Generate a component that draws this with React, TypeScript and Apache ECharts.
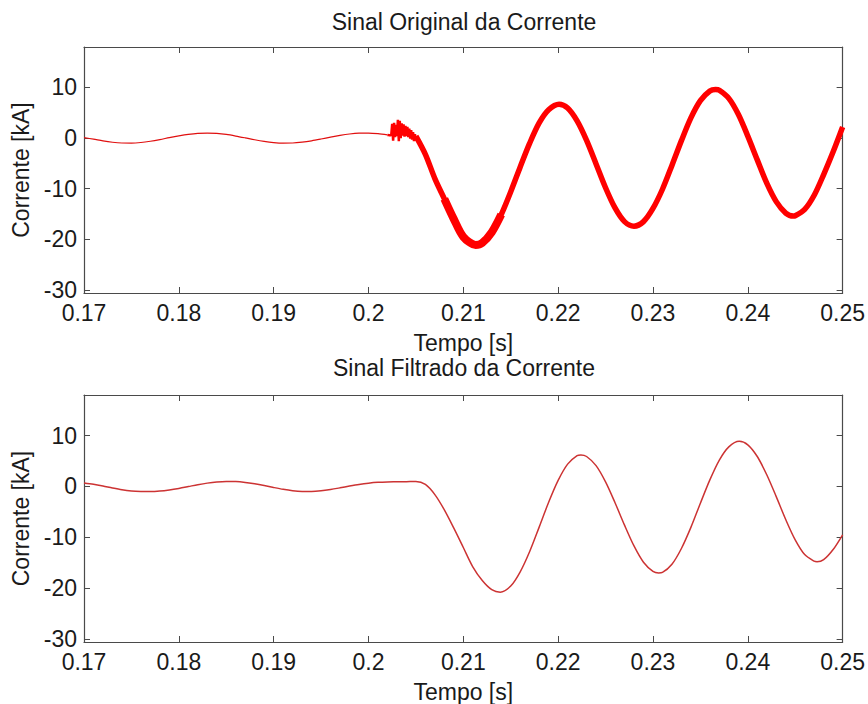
import React, { useEffect, useRef } from 'react';
import * as echarts from 'echarts';

// ---- data ----
const xMin = 0.17;
const xMax = 0.25;
const xInterval = 0.01;
const yMin = -30.6;
const yMax = 18;
const yTickValues = [-30, -20, -10, 0, 10];

const titles = ['Sinal Original da Corrente', 'Sinal Filtrado da Corrente'];
const xName = 'Tempo [s]';
const yName = 'Corrente [kA]';

// Original current, pre-fault, t = 0.170 .. 0.202 step 0.001
const originalPreStart = 0.17;
const originalPre = [
  0.1, -0.21, -0.56, -0.82, -0.97, -0.99, -0.87, -0.62, -0.29, 0.09, 0.44, 0.74, 0.94, 1.0, 0.92, 0.72,
  0.41, 0.05, -0.33, -0.65, -0.88, -0.99, -0.97, -0.8, -0.53, -0.18, 0.2, 0.54, 0.81, 0.97, 0.99, 0.87, 0.63,
];

// Original current, fault inception transient, t = 0.2020 .. 0.2050 step 0.0001
const originalNoiseStart = 0.202;
const originalNoise = [
  0.63, 0.6, 0.58, 0.56, 0.6, 2.8, -0.5, 3.0, 0.2, 2.6, 0.4, 3.6, -0.6, 3.4, 0.0, 2.9, 0.5, 2.7, 0.3, 2.4,
  0.4, 2.2, 0.2, 1.9, -0.1, 1.6, -0.3, 1.2, -0.6, 0.8, -0.5,
];

// Original current, post-fault
const originalPostT = [
  0.205, 0.206, 0.207, 0.208, 0.209, 0.21, 0.2113, 0.212, 0.213, 0.214, 0.215, 0.216, 0.217, 0.218, 0.219,
  0.2201, 0.221, 0.222, 0.223, 0.224, 0.225, 0.226, 0.227, 0.228, 0.229, 0.23, 0.231, 0.232, 0.233, 0.234,
  0.235, 0.236, 0.2366, 0.237, 0.238, 0.239, 0.24, 0.241, 0.242, 0.243, 0.244, 0.2448, 0.245, 0.246, 0.247,
  0.248, 0.249, 0.25,
];
const originalPostV = [
  0.4, -3.2, -8.0, -12.0, -16.0, -19.5, -21.1, -20.7, -18.6, -15.1, -10.6, -5.7, -1.0, 3.0, 5.6,
  6.7, 5.94, 3.4, -0.45, -5.1, -9.8, -13.8, -16.5, -17.4, -16.5, -13.9, -10.1, -5.4, -0.5, 4.0,
  7.4, 9.3, 9.6, 9.45, 7.85, 4.7, 0.4, -4.3, -8.9, -12.55, -14.8, -15.4, -15.35, -14.1, -11.3,
  -7.2, -2.7, 2.2,
];

// Filtered current, pre-fault, t = 0.170 .. 0.204 step 0.001
const filteredPreStart = 0.17;
const filteredPre = [
  0.7, 0.45, 0.1, -0.3, -0.65, -0.88, -0.98, -1.0, -0.9, -0.68, -0.38, -0.02, 0.35, 0.66, 0.88, 0.98,
  0.96, 0.8, 0.52, 0.18, -0.2, -0.55, -0.82, -0.97, -0.99, -0.86, -0.6, -0.27, 0.08, 0.4, 0.65, 0.82,
  0.9, 0.92, 0.95,
];
// Filtered current, post-fault
const filteredPostT = [
  0.205, 0.206, 0.207, 0.208, 0.209, 0.21, 0.211, 0.212, 0.213, 0.2139, 0.215, 0.216, 0.217, 0.218, 0.219,
  0.22, 0.221, 0.222, 0.2224, 0.223, 0.224, 0.225, 0.226, 0.227, 0.228, 0.229, 0.23, 0.2306, 0.231, 0.232,
  0.233, 0.234, 0.235, 0.236, 0.237, 0.238, 0.2391, 0.24, 0.241, 0.242, 0.243, 0.244, 0.245, 0.246, 0.247,
  0.2473, 0.248, 0.249, 0.25,
];
const filteredPostV = [
  1.0, 0.4, -1.6, -4.6, -8.2, -12.0, -15.8, -18.5, -20.3, -20.8, -19.6, -16.8, -12.8, -8.0, -3.1,
  1.2, 4.4, 6.05, 6.2, 5.9, 4.1, 0.9, -3.2, -7.6, -11.7, -14.9, -16.7, -17.0, -16.9, -15.3,
  -12.2, -8.05, -3.3, 1.3, 5.2, 7.8, 8.9, 8.2, 5.9, 2.3, -2.0, -6.5, -10.5, -13.4, -14.7,
  -14.8, -14.4, -12.4, -9.5,
];

// time window where the original trace is visibly thicker (noise band)
const thickBandFrom = 0.208;
const thickBandTo = 0.214;

function gridPairs(start: number, step: number, vals: number[]) {
  return vals.map((v, i) => [+(start + i * step).toFixed(5), v]);
}
function zipPairs(ts: number[], vs: number[]) {
  return ts.map((t, i) => [t, vs[i]]);
}

const FONT = '"Liberation Sans", Arial, Helvetica, sans-serif';
const TEXT_COLOR = '#1a1a1a';
const AXIS_COLOR = '#4a4a4a';

function axesFor(gridIndex: number) {
  const common = {
    gridIndex,
    type: 'value' as const,
    splitLine: { show: false },
    axisLine: { show: true, onZero: false, lineStyle: { color: AXIS_COLOR, width: 1.2 } },
  };
  const xBottom = {
    ...common,
    position: 'bottom',
    min: xMin,
    max: xMax,
    interval: xInterval,
    axisTick: { show: true, inside: true, length: 6, lineStyle: { color: AXIS_COLOR } },
    axisLabel: {
      show: true,
      margin: 8,
      fontSize: 23,
      fontFamily: FONT,
      color: TEXT_COLOR,
      showMinLabel: true,
      showMaxLabel: true,
      formatter: (v: number) => String(+v.toFixed(3)),
    },
    name: xName,
    nameLocation: 'middle',
    nameGap: 38,
    nameTextStyle: { fontSize: 23, fontFamily: FONT, color: TEXT_COLOR },
  };
  const xTop = {
    ...common,
    position: 'top',
    min: xMin,
    max: xMax,
    interval: xInterval,
    axisTick: { show: true, inside: true, length: 6, lineStyle: { color: AXIS_COLOR } },
    axisLabel: { show: false },
  };
  const yLeft = {
    ...common,
    position: 'left',
    min: yMin,
    max: yMax,
    axisTick: { show: true, inside: true, length: 6, customValues: yTickValues, lineStyle: { color: AXIS_COLOR } },
    axisLabel: {
      show: true,
      margin: 7,
      fontSize: 23,
      fontFamily: FONT,
      color: TEXT_COLOR,
      customValues: yTickValues,
    },
    name: yName,
    nameLocation: 'middle',
    nameGap: 50,
    nameRotate: 90,
    nameTextStyle: { fontSize: 23, fontFamily: FONT, color: TEXT_COLOR },
  };
  const yRight = {
    ...common,
    position: 'right',
    min: yMin,
    max: yMax,
    axisTick: { show: true, inside: true, length: 6, customValues: yTickValues, lineStyle: { color: AXIS_COLOR } },
    axisLabel: { show: false, customValues: yTickValues },
  };
  return { x: [xBottom, xTop], y: [yLeft, yRight] };
}

export default function App() {
  const ref = useRef<HTMLDivElement>(null);
  useEffect(() => {
    document.body.style.margin = '0';
    if (!ref.current) return;
    const chart = echarts.init(ref.current, null, { renderer: 'svg' });
    const a0 = axesFor(0);
    const a1 = axesFor(1);
    const postPairs = zipPairs(originalPostT, originalPostV);
    const bandPairs = postPairs.filter((p) => p[0] >= thickBandFrom && p[0] <= thickBandTo);
    const option: any = {
      animation: false,
      backgroundColor: '#ffffff',
      grid: [
        { left: 84, right: 24, top: 47, height: 246 },
        { left: 84, right: 24, top: 395, height: 247 },
      ],
      xAxis: [...a0.x, ...a1.x],
      yAxis: [...a0.y, ...a1.y],
      graphic: [
        {
          type: 'text',
          x: 464,
          y: 22,
          style: { text: titles[0], align: 'center', verticalAlign: 'middle', fontSize: 23, fontFamily: FONT, fill: TEXT_COLOR },
        },
        {
          type: 'text',
          x: 464,
          y: 368,
          style: { text: titles[1], align: 'center', verticalAlign: 'middle', fontSize: 23, fontFamily: FONT, fill: TEXT_COLOR },
        },
      ],
      series: [
        {
          type: 'line',
          xAxisIndex: 0,
          yAxisIndex: 0,
          data: gridPairs(originalPreStart, 0.001, originalPre),
          showSymbol: false,
          smooth: 0.3,
          lineStyle: { color: '#e01010', width: 1.2 },
        },
        {
          type: 'line',
          xAxisIndex: 0,
          yAxisIndex: 0,
          data: gridPairs(originalNoiseStart, 0.0001, originalNoise),
          showSymbol: false,
          lineStyle: { color: '#ff0000', width: 2.5 },
        },
        {
          type: 'line',
          xAxisIndex: 0,
          yAxisIndex: 0,
          data: postPairs,
          showSymbol: false,
          smooth: 0.3,
          lineStyle: { color: '#ff0000', width: 5.5 },
        },
        {
          type: 'line',
          xAxisIndex: 0,
          yAxisIndex: 0,
          data: bandPairs,
          showSymbol: false,
          smooth: 0.3,
          lineStyle: { color: '#ff0000', width: 8, cap: 'butt' },
        },
        {
          type: 'line',
          xAxisIndex: 2,
          yAxisIndex: 2,
          data: [...gridPairs(filteredPreStart, 0.001, filteredPre), ...zipPairs(filteredPostT, filteredPostV)],
          showSymbol: false,
          smooth: 0.3,
          lineStyle: { color: '#cc3333', width: 1.5 },
        },
      ],
    };
    chart.setOption(option);
    return () => chart.dispose();
  }, []);
  return <div ref={ref} style={{ width: 868, height: 704 }} />;
}
